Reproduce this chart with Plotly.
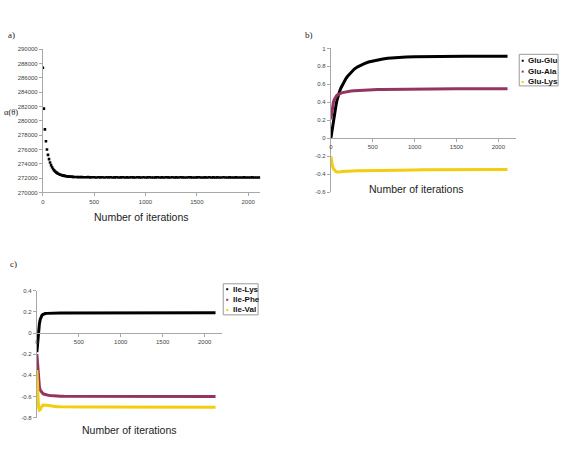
import plotly.graph_objects as go

W, H = 585, 460

# ---------------- Panel a data ----------------
iter_a = list(range(0, 310, 10)) + list(range(320, 2121, 20))
g_theta = [
    287400, 281700, 278800, 277150, 276000, 275250, 274650, 274180, 273820, 273520,
    273280, 273080, 272930, 272800, 272700, 272610, 272540, 272480, 272430, 272390,
    272350, 272320, 272290, 272270, 272250, 272230, 272210, 272200, 272190, 272180,
    272170,
    272160, 272150, 272140, 272150, 272130, 272120, 272140, 272110, 272130, 272120,
    272100, 272130, 272110, 272120, 272090, 272120, 272110, 272130, 272100, 272110,
    272120, 272090, 272110, 272130, 272100, 272110, 272090, 272120, 272110, 272100,
    272130, 272110, 272090, 272120, 272100, 272110, 272130, 272100, 272090, 272110,
    272120, 272100, 272110, 272090, 272120, 272110, 272100, 272130, 272090, 272110,
    272100, 272120, 272110, 272090, 272100, 272120, 272110, 272100, 272090, 272110,
    272120, 272100, 272090, 272110, 272100, 272120, 272090, 272110, 272100, 272110,
    272090, 272100, 272120, 272100, 272090, 272110, 272100, 272090, 272110, 272100,
    272100, 272090, 272110, 272100, 272090, 272100, 272110, 272100, 272090, 272100,
    272100,
]
ytick_a = [270000, 272000, 274000, 276000, 278000, 280000, 282000, 284000, 286000, 288000, 290000]
xtick_vals = [0, 500, 1000, 1500, 2000]

# ---------------- Panel b data ----------------
iter_b = [0, 10, 20, 30, 40, 50, 60, 70, 80, 90, 100, 120, 140, 160, 180, 200, 240, 280,
          320, 360, 400, 450, 500, 560, 620, 680, 740, 800, 900, 1000, 1100, 1200, 1300,
          1400, 1500, 1600, 1700, 1800, 1900, 2000, 2110]
glu_glu = [0.0, 0.07, 0.13, 0.19, 0.25, 0.31, 0.36, 0.41, 0.45, 0.48, 0.51, 0.56, 0.60,
           0.635, 0.665, 0.69, 0.735, 0.77, 0.795, 0.815, 0.83, 0.848, 0.86, 0.872, 0.882,
           0.89, 0.895, 0.899, 0.904, 0.907, 0.909, 0.91, 0.911, 0.911, 0.912, 0.912,
           0.912, 0.912, 0.913, 0.913, 0.913]
glu_ala = [0.21, 0.30, 0.36, 0.40, 0.43, 0.45, 0.465, 0.475, 0.483, 0.49, 0.495, 0.502,
           0.508, 0.513, 0.517, 0.52, 0.525, 0.529, 0.532, 0.535, 0.537, 0.539, 0.541,
           0.542, 0.543, 0.544, 0.545, 0.546, 0.547, 0.548, 0.549, 0.549, 0.55, 0.55,
           0.551, 0.551, 0.551, 0.551, 0.552, 0.552, 0.552]
glu_lys = [-0.20, -0.27, -0.31, -0.34, -0.355, -0.365, -0.37, -0.374, -0.375, -0.375,
           -0.374, -0.373, -0.371, -0.369, -0.368, -0.366, -0.364, -0.362, -0.361, -0.36,
           -0.359, -0.358, -0.357, -0.356, -0.355, -0.355, -0.354, -0.353, -0.352, -0.352,
           -0.351, -0.351, -0.35, -0.35, -0.35, -0.349, -0.349, -0.349, -0.348, -0.348,
           -0.348]
ytick_b_vals = [-0.6, -0.4, -0.2, 0, 0.2, 0.4, 0.6, 0.8, 1]
ytick_b_text = ["-0.6", "-0.4", "-0.2", "0", "0.2", "0.4", "0.6", "0.8", "1"]

# ---------------- Panel c data ----------------
iter_c = [0, 10, 20, 30, 40, 50, 60, 70, 80, 90, 100, 120, 140, 160, 180, 200, 240, 280,
          320, 360, 400, 450, 500, 560, 620, 680, 740, 800, 900, 1000, 1100, 1200, 1300,
          1400, 1500, 1600, 1700, 1800, 1900, 2000, 2130]
ile_lys = [-0.18, -0.06, 0.03, 0.09, 0.13, 0.155, 0.168, 0.176, 0.18, 0.183, 0.185, 0.187,
           0.188, 0.189, 0.189, 0.19, 0.19, 0.19, 0.19, 0.19, 0.19, 0.19, 0.191, 0.191,
           0.191, 0.191, 0.191, 0.191, 0.191, 0.192, 0.192, 0.192, 0.192, 0.192, 0.192,
           0.192, 0.193, 0.193, 0.193, 0.193, 0.193]
ile_phe = [-0.20, -0.33, -0.45, -0.51, -0.54, -0.555, -0.565, -0.572, -0.577, -0.58, -0.583,
           -0.587, -0.59, -0.592, -0.594, -0.595, -0.597, -0.598, -0.599, -0.599, -0.6,
           -0.6, -0.6, -0.6, -0.6, -0.6, -0.6, -0.6, -0.6, -0.6, -0.6, -0.6, -0.601, -0.601,
           -0.601, -0.601, -0.601, -0.601, -0.601, -0.601, -0.601]
ile_val = [-0.35, -0.55, -0.70, -0.73, -0.725, -0.705, -0.69, -0.684, -0.681, -0.68, -0.68,
           -0.683, -0.687, -0.69, -0.692, -0.694, -0.697, -0.698, -0.699, -0.7, -0.7, -0.7,
           -0.7, -0.7, -0.7, -0.7, -0.7, -0.701, -0.701, -0.701, -0.701, -0.701, -0.701,
           -0.701, -0.702, -0.702, -0.702, -0.702, -0.702, -0.702, -0.702]
ytick_c_vals = [-0.8, -0.6, -0.4, -0.2, 0, 0.2, 0.4]
ytick_c_text = ["-0.8", "-0.6", "-0.4", "-0.2", "0", "0.2", "0.4"]

legend_b = ["Glu-Glu", "Glu-Ala", "Glu-Lys"]
legend_c = ["Ile-Lys", "Ile-Phe", "Ile-Val"]

BLACK = "#000000"
MAROON = "#933461"
YELLOW = "#F3CD10"
colors = [BLACK, MAROON, YELLOW]

# ---------------- geometry (pixels -> paper) ----------------
def px(x):
    return x / W

def py(y):
    return 1 - y / H

dom_a_x = [px(41), px(259)]
dom_a_y = [py(192), py(46.7)]
dom_b_x = [px(330), px(516)]
dom_b_y = [py(191.7), py(46)]
dom_c_x = [px(35), px(221)]
dom_c_y = [py(420), py(291.7)]

rng_b_y = [-0.6, 1.0]
rng_c_y = [-0.8, 0.4]
zero_b = dom_b_y[0] + (0 - rng_b_y[0]) / (rng_b_y[1] - rng_b_y[0]) * (dom_b_y[1] - dom_b_y[0])
zero_c = dom_c_y[0] + (0 - rng_c_y[0]) / (rng_c_y[1] - rng_c_y[0]) * (dom_c_y[1] - dom_c_y[0])

fig = go.Figure()

fig.add_trace(go.Scatter(x=iter_a, y=g_theta, mode="markers",
                         marker=dict(symbol="square", size=2.6, color=BLACK, line=dict(width=0)),
                         xaxis="x", yaxis="y", showlegend=False))

for ys, c in zip([glu_glu, glu_ala, glu_lys], colors):
    fig.add_trace(go.Scatter(x=iter_b, y=ys, mode="lines", line=dict(color=c, width=3),
                             xaxis="x2", yaxis="y2", showlegend=False))
for ys, c in zip([ile_lys, ile_phe, ile_val], colors):
    fig.add_trace(go.Scatter(x=iter_c, y=ys, mode="lines", line=dict(color=c, width=3),
                             xaxis="x3", yaxis="y3", showlegend=False))

TICKFONT = dict(family="Liberation Sans, Arial, sans-serif", size=6, color="#444444")
AX = dict(showgrid=False, zeroline=False, showline=True, linecolor="#a8a8a8", linewidth=1,
          ticks="outside", ticklen=3, tickcolor="#a8a8a8", tickfont=TICKFONT)

fig.update_layout(
    width=W, height=H, margin=dict(l=0, r=0, t=0, b=0),
    paper_bgcolor="white", plot_bgcolor="white",
    xaxis=dict(domain=dom_a_x, range=[0, 2116], tickvals=xtick_vals, anchor="y", **AX),
    yaxis=dict(domain=dom_a_y, range=[270000, 290000], tickvals=ytick_a, tickformat="d",
               anchor="x", **AX),
    xaxis2=dict(domain=dom_b_x, range=[0, 2214], tickvals=xtick_vals, anchor="free",
                position=zero_b, **AX),
    yaxis2=dict(domain=dom_b_y, range=rng_b_y, tickvals=ytick_b_vals, ticktext=ytick_b_text,
                anchor="x2", **AX),
    xaxis3=dict(domain=dom_c_x, range=[0, 2210], tickvals=xtick_vals, anchor="free",
                position=zero_c, **AX),
    yaxis3=dict(domain=dom_c_y, range=rng_c_y, tickvals=ytick_c_vals, ticktext=ytick_c_text,
                anchor="x3", **AX),
)

ann = []
SERIF = "Liberation Serif, Times New Roman, serif"
SANS = "Liberation Sans, Arial, sans-serif"
for t, x, y in [("a)", 10, 32), ("b)", 308, 32), ("c)", 12, 264)]:
    ann.append(dict(text=t, x=px(x), y=py(y), xref="paper", yref="paper", showarrow=False,
                    xanchor="center", yanchor="middle", font=dict(family=SERIF, size=9, color="#222")))
ann.append(dict(text="α(θ)", x=px(0.5), y=py(110), xref="paper", yref="paper", showarrow=False,
                xanchor="left", yanchor="middle", font=dict(family=SERIF, size=8.5, color="#222")))
for x, y in [(140, 217), (416, 188), (128, 432.5)]:
    ann.append(dict(text="Number of iterations", x=px(x), y=py(y), xref="paper", yref="paper",
                    showarrow=False, xanchor="center", yanchor="middle",
                    font=dict(family=SANS, size=10.5, color="#222")))

shapes = []
def add_legend(names, box, mark_x, text_x, rows):
    x0, y0, x1, y1 = box
    shapes.append(dict(type="rect", xref="paper", yref="paper", x0=px(x0), x1=px(x1),
                       y0=py(y1), y1=py(y0), line=dict(color="#9a9a9a", width=1),
                       fillcolor="white", layer="above"))
    for name, c, ry in zip(names, colors, rows):
        shapes.append(dict(type="rect", xref="paper", yref="paper", x0=px(mark_x - 1),
                           x1=px(mark_x + 1), y0=py(ry + 1), y1=py(ry - 1),
                           line=dict(width=0), fillcolor=c, layer="above"))
        ann.append(dict(text="<b>" + name + "</b>", x=px(text_x), y=py(ry), xref="paper",
                        yref="paper", showarrow=False, xanchor="left", yanchor="middle",
                        font=dict(family=SANS, size=8, color="#111")))

add_legend(legend_b, (519, 52, 558, 84), 522.5, 526, [58.5, 69.5, 80])
add_legend(legend_c, (222, 284.5, 257, 316), 226, 229.5, [290, 300.7, 311])

fig.update_layout(annotations=ann, shapes=shapes)
fig.write_html("out.html")
